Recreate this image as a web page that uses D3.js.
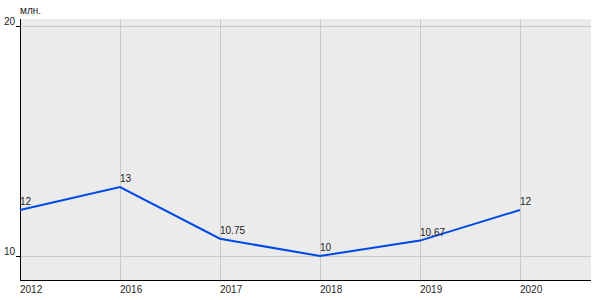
<!DOCTYPE html>
<html>
<head>
<meta charset="utf-8">
<script src="https://cdn.jsdelivr.net/npm/d3@7"></script>
<style>
  body { margin: 0; background: #fff; }
  text { font-family: 'Liberation Sans', Arial, sans-serif; }
</style>
</head>
<body>
<div id="chart"></div>
<script>
let years = ['2012', '2016', '2017', '2018', '2019', '2020']
let values = [12, 13, 10.75, 10, 10.67, 12]
let valueLabels = ['12', '13', '10.75', '10', '10.67', '12']
let yTicks = [10, 20]
let unitLabel = 'млн.'

let width = 600
let height = 300
let plot = { left: 20, right: 591, top: 19, bottom: 280 }

let svg = d3
  .select('#chart')
  .append('svg')
  .attr('width', width)
  .attr('height', height)

// each year gets a 100px slot, first one sits on the axis
let xPositionScale = d3
  .scalePoint()
  .domain(years)
  .range([20, 520])

let yPositionScale = d3.scaleLinear().domain([10, 20]).range([256, 26])

svg
  .append('rect')
  .attr('x', plot.left)
  .attr('y', plot.top)
  .attr('width', plot.right - plot.left)
  .attr('height', plot.bottom - plot.top)
  .attr('fill', '#ebebeb')

// grid
svg
  .selectAll('.y-grid')
  .data(yTicks)
  .enter()
  .append('line')
  .attr('class', 'y-grid')
  .attr('x1', plot.left)
  .attr('x2', plot.right)
  .attr('y1', d => Math.round(yPositionScale(d)) + 0.5)
  .attr('y2', d => Math.round(yPositionScale(d)) + 0.5)
  .attr('stroke', '#c8c8c8')

svg
  .selectAll('.x-grid')
  .data(years.slice(1))
  .enter()
  .append('line')
  .attr('class', 'x-grid')
  .attr('x1', d => xPositionScale(d) + 0.5)
  .attr('x2', d => xPositionScale(d) + 0.5)
  .attr('y1', plot.top)
  .attr('y2', plot.bottom)
  .attr('stroke', '#c8c8c8')

// axes lines
svg
  .append('line')
  .attr('x1', plot.left + 0.5)
  .attr('x2', plot.left + 0.5)
  .attr('y1', plot.top)
  .attr('y2', plot.bottom + 1)
  .attr('stroke', '#000')

svg
  .append('line')
  .attr('x1', plot.left)
  .attr('x2', plot.right)
  .attr('y1', plot.bottom + 0.5)
  .attr('y2', plot.bottom + 0.5)
  .attr('stroke', '#000')

// y ticks
svg
  .selectAll('.y-tick')
  .data(yTicks)
  .enter()
  .append('line')
  .attr('class', 'y-tick')
  .attr('x1', plot.left - 4)
  .attr('x2', plot.left)
  .attr('y1', d => Math.round(yPositionScale(d)) + 0.5)
  .attr('y2', d => Math.round(yPositionScale(d)) + 0.5)
  .attr('stroke', '#000')

svg
  .selectAll('.y-label')
  .data(yTicks)
  .enter()
  .append('text')
  .attr('class', 'y-label')
  .attr('x', plot.left - 5)
  .attr('y', d => yPositionScale(d) - 1)
  .attr('text-anchor', 'end')
  .attr('font-size', 10)
  .attr('fill', '#222')
  .text(d => d)

svg
  .append('text')
  .attr('x', plot.left)
  .attr('y', 14)
  .attr('font-size', 10)
  .attr('fill', '#222')
  .text(unitLabel)

// x labels
svg
  .selectAll('.x-label')
  .data(years)
  .enter()
  .append('text')
  .attr('class', 'x-label')
  .attr('x', d => xPositionScale(d))
  .attr('y', 293)
  .attr('font-size', 10)
  .attr('fill', '#222')
  .text(d => d)

let points = years.map((y, i) => ({ year: y, value: values[i], label: valueLabels[i] }))

let line = d3
  .line()
  .x(d => xPositionScale(d.year))
  .y(d => yPositionScale(d.value))

svg
  .append('path')
  .datum(points)
  .attr('d', line)
  .attr('fill', 'none')
  .attr('stroke', '#0049e6')
  .attr('stroke-width', 2)

svg
  .selectAll('.value-text')
  .data(points)
  .enter()
  .append('text')
  .attr('class', 'value-text')
  .attr('x', d => xPositionScale(d.year))
  .attr('y', d => yPositionScale(d.value) - 5)
  .attr('font-size', 10)
  .attr('fill', '#222')
  .text(d => d.label)
</script>
</body>
</html>
